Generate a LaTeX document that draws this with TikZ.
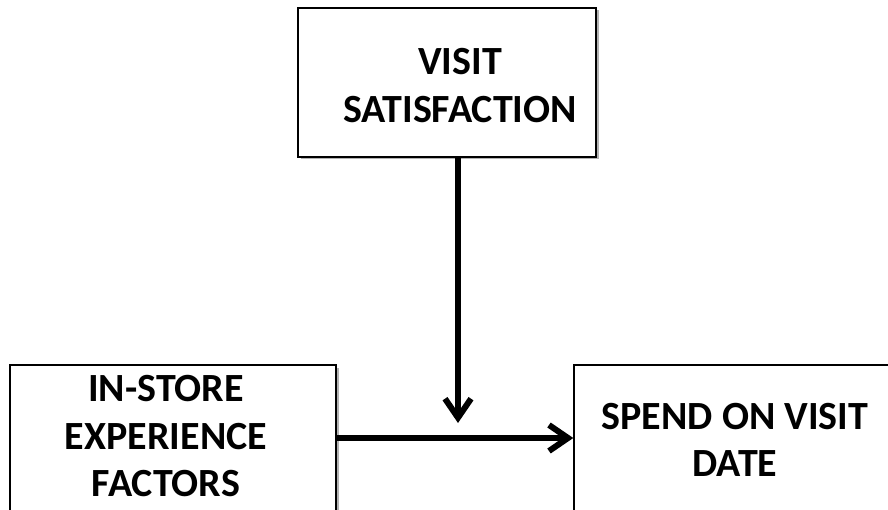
\documentclass[tikz,border=0pt]{standalone}
\usepackage{fontspec}
\setmainfont{Carlito}
\usetikzlibrary{arrows.meta,shadows}
\begin{document}
\begin{tikzpicture}[x=1pt,y=-1pt,
  box/.style={draw=black,line width=1.4pt,fill=white,rectangle,inner sep=0pt,
    drop shadow={shadow xshift=2.5pt,shadow yshift=-2.5pt,opacity=0.3,fill=black}},
  lbl/.style={align=center,font=\fontsize{40}{47.5}\selectfont\bfseries,inner sep=0pt},
  link/.style={line width=6pt,-{Straight Barb[length=19pt,width=26pt]}}]
\useasboundingbox (0,0) rectangle (888,510);
\clip (0,0) rectangle (888,510);
% boxes
\node[box,minimum width=298pt,minimum height=149pt] (sat) at (447,82.5) {};
\node[box,minimum width=326pt,minimum height=150pt] (ise) at (173,440) {};
\node[box,minimum width=324pt,minimum height=150pt] (spd) at (736,440) {};
% labels
\node[lbl] (satl) at (460,85.5) {VISIT\\SATISFACTION};
\node[lbl] (isel) at (166,436.5) {IN-STORE\\EXPERIENCE\\FACTORS};
\node[lbl] (spdl) at (735,440) {SPEND ON VISIT\\DATE};
% connectors
\coordinate (mod) at (458,423);
\draw[link] (sat.south -| mod) -- (mod);
\draw[link] (ise.east |- 0,438) -- (spd.west |- 0,438);
\end{tikzpicture}
\end{document}
